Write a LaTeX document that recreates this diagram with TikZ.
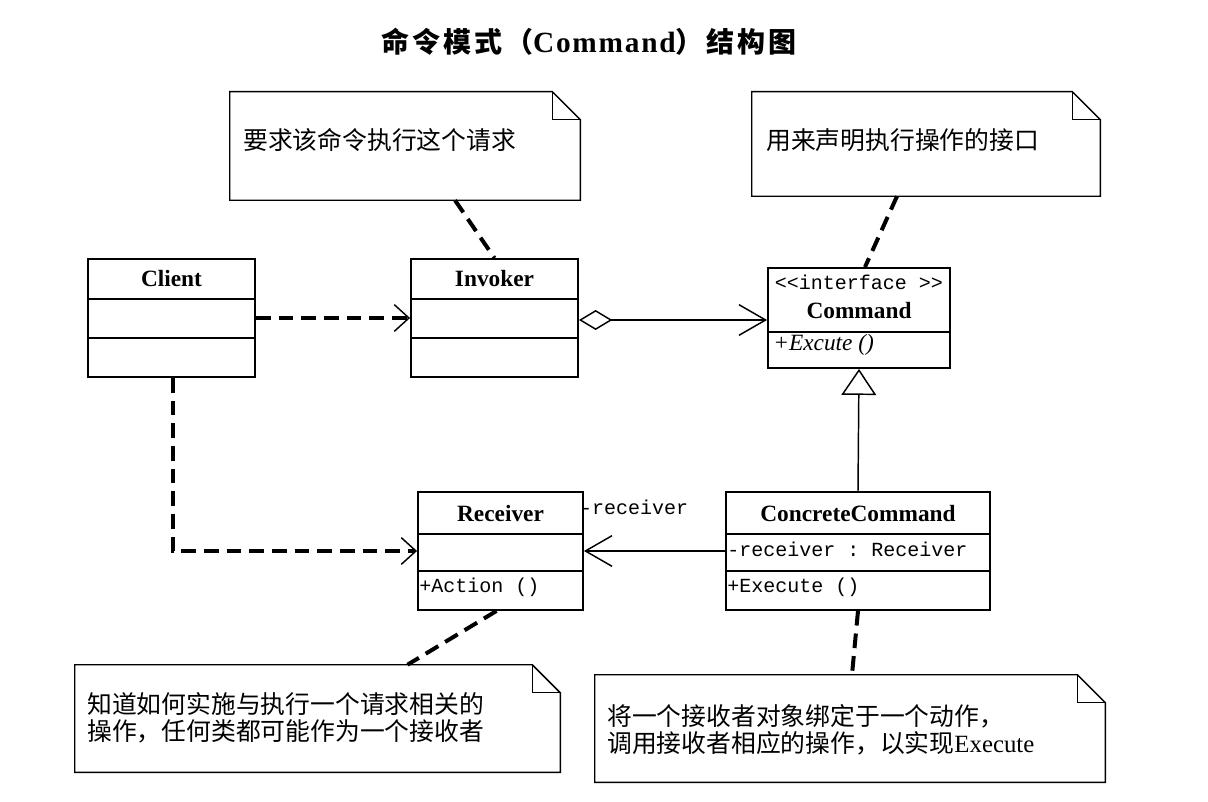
\documentclass[tikz,border=0pt]{standalone}
\usepackage{fontspec}
\setmainfont{Liberation Serif}
\setmonofont{Liberation Mono}
\newfontfamily\cjk{Noto Sans CJK SC}
\newfontfamily\cjkt{Noto Sans CJK SC}[LetterSpace=10]
\newfontfamily\titlelat{Liberation Serif}[LetterSpace=6]
\usetikzlibrary{arrows.meta,calc}
\begin{document}
\begin{tikzpicture}[x=0.75pt,y=-0.75pt,
  box/.style={draw, line width=1.4pt, inner sep=0pt, fill=white},
  notebg/.style={inner sep=0pt},
  noteline/.style={line width=1.1pt, line join=miter},
  divl/.style={line width=1.4pt},
  nm/.style={font=\fontsize{17.5pt}{20pt}\selectfont\bfseries, inner sep=0pt},
  mono/.style={font=\fontsize{15pt}{17pt}\selectfont\ttfamily, inner sep=0pt},
  notetxt/.style={font=\fontsize{18.6pt}{20.5pt}\selectfont\cjk, inner sep=0pt, align=left, anchor=west},
  dep/.style={line width=3pt, dash pattern=on 11pt off 6pt},
  thin/.style={line width=1.1pt},
  smallbarb/.tip={Straight Barb[length=11pt,width=20pt,line width=1.1pt]},
  bigbarb/.tip={Straight Barb[length=20pt,width=23pt,line width=1.1pt]},
  agg/.tip={Diamond[open,length=25pt,width=15pt,line width=1.1pt]},
  gen/.tip={Triangle[open,length=19.5pt,width=26pt,line width=1.1pt]}
]
\useasboundingbox (0,0) rectangle (1208,802);

% title
\node[inner sep=0pt] (title) at (589,42)
  {\fontsize{21pt}{24pt}\selectfont\cjkt\bfseries 命令模式（\titlelat\fontsize{22pt}{24pt}\selectfont\bfseries Command\cjkt\fontsize{21pt}{24pt}\selectfont\bfseries）结构图};

% notes
\node[notebg, minimum width=350*0.75pt, minimum height=108*0.75pt] (n1) at (405,146) {};
\node[notebg, minimum width=348*0.75pt, minimum height=104*0.75pt] (n2) at (926,144) {};
\node[notebg, minimum width=485*0.75pt, minimum height=107*0.75pt] (n3) at (317.5,718.5) {};
\node[notebg, minimum width=510*0.75pt, minimum height=107*0.75pt] (n4) at (850,728.5) {};
\foreach \n in {n1,n2,n3,n4}{
  \draw[noteline] (\n.south west) -- (\n.north west) -- ([xshift=-21pt]\n.north east)
     -- ([yshift=-21pt]\n.north east) -- (\n.south east) -- cycle;
  \draw[noteline] ([xshift=-21pt]\n.north east) |- ([yshift=-21pt]\n.north east);
}
\node[notetxt] (t1) at (243,140) {要求该命令执行这个请求};
\node[notetxt] (t2) at (766,140) {用来声明执行操作的接口};
\node[notetxt] (t3) at (87,718) {知道如何实施与执行一个请求相关的\\操作，任何类都可能作为一个接收者};
\node[notetxt] (t4) at (607,730) {将一个接收者对象绑定于一个动作，\\调用接收者相应的操作，以实现{\rmfamily Execute}};

% classes
\node[box, minimum width=167*0.75pt, minimum height=118*0.75pt] (client) at (171.5,318) {};
\node[box, minimum width=167*0.75pt, minimum height=118*0.75pt] (invoker) at (494.5,318) {};
\node[box, minimum width=182*0.75pt, minimum height=100*0.75pt] (command) at (859,318) {};
\node[box, minimum width=165*0.75pt, minimum height=118*0.75pt] (receiver) at (500.5,551) {};
\node[box, minimum width=264*0.75pt, minimum height=118*0.75pt] (concrete) at (858,551) {};

\foreach \c in {client,invoker}{
  \draw[divl] ($(\c.north west)+(0,41)$) -- ($(\c.north east)+(0,41)$);
  \draw[divl] ($(\c.north west)+(0,80)$) -- ($(\c.north east)+(0,80)$);
}
\foreach \c in {receiver,concrete}{
  \draw[divl] ($(\c.north west)+(0,43)$) -- ($(\c.north east)+(0,43)$);
  \draw[divl] ($(\c.north west)+(0,80)$) -- ($(\c.north east)+(0,80)$);
}
\draw[divl] ($(command.north west)+(0,65)$) -- ($(command.north east)+(0,65)$);

\node[nm] (clientN) at ($(client.north)+(0,20)$) {Client};
\node[nm] (invokerN) at ($(invoker.north)+(0,20)$) {Invoker};
\node[mono] (cmdS) at ($(command.north)+(0,15)$) {<<interface >>};
\node[nm] (cmdN) at ($(command.north)+(0,43)$) {Command};
\node[inner sep=0pt, anchor=west, font=\fontsize{17.5pt}{19pt}\selectfont\itshape] (cmdOp) at ($(command.north west)+(6,78)$) {+Excute ()};
\node[nm] (receiverN) at ($(receiver.north)+(0,22)$) {Receiver};
\node[mono, anchor=west] (recOp) at ($(receiver.north west)+(2,96)$) {+Action ()};
\node[nm] (concreteN) at ($(concrete.north)+(0,22)$) {ConcreteCommand};
\node[mono, anchor=west] (ccAttr) at ($(concrete.north west)+(2,58)$) {-receiver : Receiver};
\node[mono, anchor=west] (ccOp) at ($(concrete.north west)+(2,96)$) {+Execute ()};

% connectors
\draw[dep, -smallbarb] (client.east) -- (invoker.west);
\draw[thin, agg-bigbarb] ($(invoker.east)+(0,2)$) -- ($(command.west)+(0,2)$);
\draw[thin, -gen] (concrete.north) -- (command.south);
\draw[thin, -bigbarb] (concrete.west) -- (receiver.east);
\node[mono, anchor=west] (roleLbl) at ($(receiver.north east)+(-4,16)$) {-receiver};
\draw[dep, -smallbarb] ($(client.south)+(1.5,0)$) |- (receiver.west);

\draw[dep] ($(n1.south)+(50,0)$) -- (invoker.north);
\draw[dep] ($(n2.south)+(-29,0)$) -- ($(command.north)+(6,0)$);
\draw[dep] ($(receiver.south)+(-4,0)$) -- ($(n3.north)+(90,0)$);
\draw[dep] (concrete.south) -- ($(n4.north)+(2,0)$);
\end{tikzpicture}
\end{document}
